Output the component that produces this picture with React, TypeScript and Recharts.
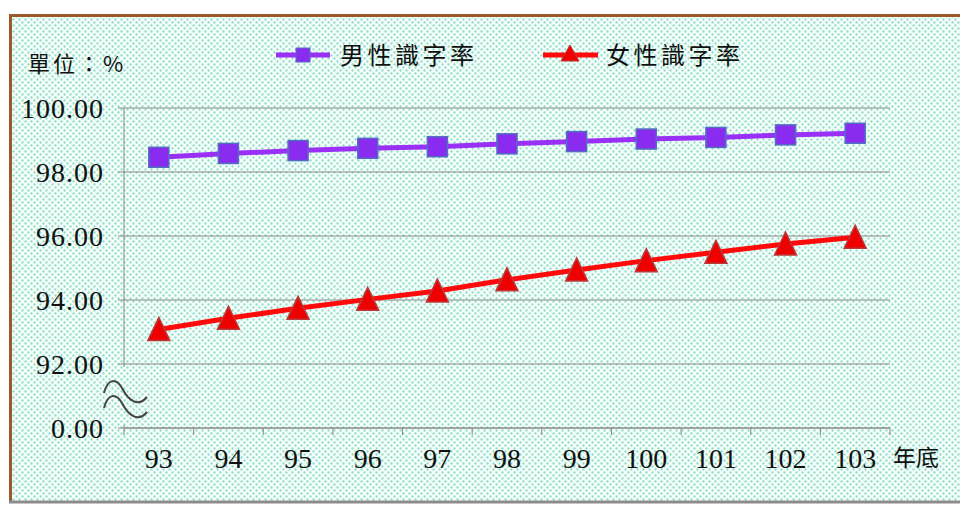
import { LineChart, Line, XAxis, YAxis, CartesianGrid } from 'recharts';

const years = ['93', '94', '95', '96', '97', '98', '99', '100', '101', '102', '103'];
const maleRate = [98.46, 98.58, 98.67, 98.74, 98.79, 98.88, 98.95, 99.03, 99.08, 99.16, 99.21];
const femaleRate = [93.08, 93.43, 93.74, 94.02, 94.28, 94.63, 94.94, 95.23, 95.49, 95.75, 95.96];
const yTicks = [90, 92, 94, 96, 98, 100];
const yTickLabels = ['0.00', '92.00', '94.00', '96.00', '98.00', '100.00'];
const seriesNames = ['男性識字率', '女性識字率'];

const data = years.map((year, i) => ({ year, male: maleRate[i], female: femaleRate[i] }));

const W = 960;
const H = 505;
const PLOT_LEFT = 124;
const PLOT_RIGHT = 890;
const PLOT_TOP = 108;

const MALE_LINE = '#9a30f5';
const MALE_FILL = '#8a2cf0';
const MALE_EDGE = '#4f6fc0';
const FEMALE_LINE = '#ff0a0a';
const FEMALE_FILL = '#ee0000';
const FEMALE_EDGE = '#b83a3a';

const serif = '"Liberation Serif", "DejaVu Serif", serif';
const cjk = '"Noto Sans CJK TC", "Noto Sans CJK SC", sans-serif';

function SquareDot(props: any) {
  const { cx, cy } = props;
  if (cx == null || cy == null) return null;
  return <rect x={cx - 10} y={cy - 10} width={20} height={20} fill={MALE_FILL} stroke={MALE_EDGE} strokeWidth={1.5} />;
}

function TriangleDot(props: any) {
  const { cx, cy } = props;
  if (cx == null || cy == null) return null;
  return (
    <polygon
      points={`${cx},${cy - 12} ${cx + 11},${cy + 11} ${cx - 11},${cy + 11}`}
      fill={FEMALE_FILL}
      stroke={FEMALE_EDGE}
      strokeWidth={1.5}
    />
  );
}

// category ticks sit between years, labels in the middle
function XTick(props: any) {
  const { x, y, payload, index } = props;
  const band = (PLOT_RIGHT - PLOT_LEFT) / years.length;
  return (
    <g>
      <line x1={x - band / 2} y1={y} x2={x - band / 2} y2={y + 7} stroke="#888" />
      {index === years.length - 1 && (
        <line x1={x + band / 2} y1={y} x2={x + band / 2} y2={y + 7} stroke="#888" />
      )}
      <text x={x} y={y + 40} textAnchor="middle" fill="#111" fontSize={28} fontFamily={serif}>
        {payload.value}
      </text>
    </g>
  );
}

export default function App() {
  return (
    <div style={{ position: 'absolute', left: 0, top: 0, width: W, height: H, background: '#fff' }}>
      {/* frame + dotted background */}
      <svg width={W} height={H} style={{ position: 'absolute', left: 0, top: 0 }}>
        <defs>
          <pattern id="dots" x="0" y="0" width="6" height="6" patternUnits="userSpaceOnUse">
            <rect width="6" height="6" fill="#f5fcfa" />
            <circle cx="1.5" cy="1.5" r="1.15" fill="#88dec5" />
            <circle cx="4.5" cy="4.5" r="1.15" fill="#88dec5" />
          </pattern>
        </defs>
        <rect x={10} y={15} width={W} height={486} fill="url(#dots)" />
        <line x1={10.5} y1={14} x2={10.5} y2={502} stroke="#9a5a2a" strokeWidth={3} />
        <line x1={9} y1={15.5} x2={W} y2={15.5} stroke="#9a5a2a" strokeWidth={3} />
        <line x1={9} y1={502} x2={W} y2={502} stroke="#8c8c8c" strokeWidth={3} />
      </svg>

      <div style={{ position: 'absolute', left: 0, top: 0 }}>
        <LineChart
          width={W}
          height={H}
          data={data}
          margin={{ top: PLOT_TOP, right: W - PLOT_RIGHT, bottom: 37, left: 64 }}
        >
          <CartesianGrid vertical={false} stroke="#8a8a8a" />
          <XAxis
            dataKey="year"
            scale="band"
            height={40}
            tickSize={0}
            tickMargin={0}
            tickLine={false}
            axisLine={{ stroke: '#8a8a8a' }}
            tick={<XTick />}
            interval={0}
          />
          <YAxis
            width={60}
            domain={[90, 100]}
            ticks={yTicks}
            allowDataOverflow
            tickSize={6}
            tickMargin={14}
            tickLine={{ stroke: '#8a8a8a' }}
            axisLine={{ stroke: '#8a8a8a' }}
            tickFormatter={(v: number) => yTickLabels[yTicks.indexOf(v)]}
            tick={{ fill: '#111', fontSize: 28, fontFamily: serif, letterSpacing: 1 }}
          />
          <Line
            dataKey="male"
            name={seriesNames[0]}
            stroke={MALE_LINE}
            strokeWidth={5}
            dot={<SquareDot />}
            activeDot={false}
            isAnimationActive={false}
          />
          <Line
            dataKey="female"
            name={seriesNames[1]}
            stroke={FEMALE_LINE}
            strokeWidth={5}
            dot={<TriangleDot />}
            activeDot={false}
            isAnimationActive={false}
          />
        </LineChart>
      </div>

      {/* axis break, unit label, x-axis title, legend */}
      <svg width={W} height={H} style={{ position: 'absolute', left: 0, top: 0, pointerEvents: 'none' }}>
        <rect x={120} y={367} width={8} height={58} fill="url(#dots)" />
        <path d="M104 393 C108 378, 116 378, 122 388 C128 400, 138 408, 147 397" fill="none" stroke="#444" strokeWidth={2} />
        <path d="M104 408 C108 393, 116 393, 122 403 C128 415, 138 423, 147 412" fill="none" stroke="#444" strokeWidth={2} />

        <text x={28} y={72} fontSize={22} fontFamily={cjk} fill="#111" letterSpacing={3}>單位：%</text>
        <text x={893} y={466} fontSize={23} fontFamily={cjk} fill="#111">年底</text>

        <line x1={276} y1={55} x2={330} y2={55} stroke={MALE_LINE} strokeWidth={5} />
        <rect x={296} y={48} width={14} height={14} fill={MALE_FILL} stroke={MALE_EDGE} strokeWidth={1} />
        <text x={340} y={64} fontSize={24} fontFamily={cjk} fill="#111" letterSpacing={3.5}>{seriesNames[0]}</text>

        <line x1={543} y1={55} x2={598} y2={55} stroke={FEMALE_LINE} strokeWidth={5} />
        <polygon points="570,45 579,61 561,61" fill={FEMALE_FILL} stroke={FEMALE_EDGE} strokeWidth={1} />
        <text x={606} y={64} fontSize={24} fontFamily={cjk} fill="#111" letterSpacing={3.5}>{seriesNames[1]}</text>
      </svg>
    </div>
  );
}
